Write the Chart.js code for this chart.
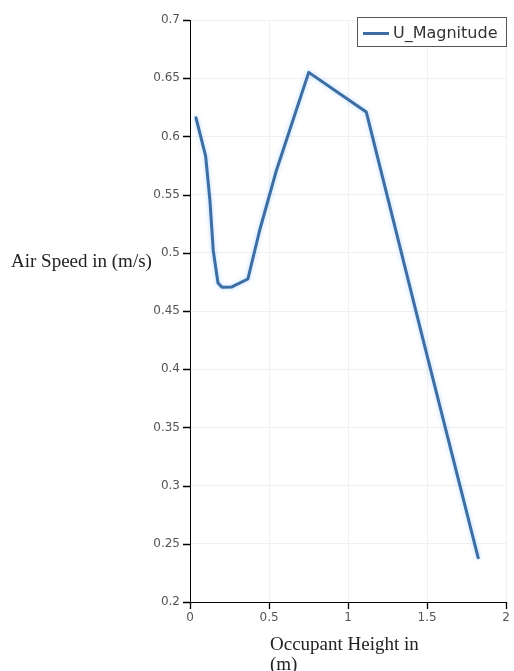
<!DOCTYPE html>
<html>
<head>
<meta charset="utf-8">
<script src="https://cdn.jsdelivr.net/npm/chart.js@4/dist/chart.umd.min.js"></script>
<style>
  html, body { margin: 0; padding: 0; background: #fff; }
  #wrap { width: 514px; height: 671px; }
</style>
</head>
<body>
<div id="wrap"><canvas id="c" width="514" height="671"></canvas></div>
<script>
// Occupant height (m) and air speed magnitude (m/s) along the sample line
const heights = [0.038, 0.099, 0.126, 0.147, 0.177, 0.202, 0.265, 0.366, 0.442, 0.547, 0.751, 1.115, 1.475, 1.823];
const speeds  = [0.616, 0.583, 0.545, 0.502, 0.474, 0.4705, 0.4707, 0.4775, 0.520, 0.571, 0.655, 0.621, 0.425, 0.238];
const seriesName = 'U_Magnitude';
const xTitleLines = ['Occupant Height in', '(m)'];
const yTitle = 'Air Speed in (m/s)';

const points = heights.map((h, i) => ({ x: h, y: speeds[i] }));

const lineColor = '#3d6ea3';
const tickFont = { family: 'DejaVu Sans', size: 12 };
const titleFont = '19px "Liberation Serif"';

// soft halo under the curve
const glow = {
  id: 'glow',
  beforeDatasetDraw(chart) {
    const ctx = chart.ctx;
    ctx.save();
    ctx.shadowColor = 'rgba(110,180,255,0.55)';
    ctx.shadowBlur = 4;
  },
  afterDatasetDraw(chart) { chart.ctx.restore(); }
};

// tick marks, axis titles and boxed legend
const decorations = {
  id: 'decorations',
  afterDraw(chart) {
    const ctx = chart.ctx;
    const area = chart.chartArea;
    const xs = chart.scales.x, ys = chart.scales.y;
    ctx.save();

    ctx.strokeStyle = '#000';
    ctx.lineWidth = 1.3;
    ctx.beginPath();
    ys.ticks.forEach(t => {
      const py = Math.round(ys.getPixelForValue(t.value)) + 0.5;
      ctx.moveTo(area.left - 7, py);
      ctx.lineTo(area.left, py);
    });
    xs.ticks.forEach(t => {
      const px = Math.round(xs.getPixelForValue(t.value)) + 0.5;
      ctx.moveTo(px, area.bottom);
      ctx.lineTo(px, area.bottom + 7);
    });
    ctx.stroke();

    ctx.fillStyle = '#222';
    ctx.font = titleFont;
    ctx.textBaseline = 'alphabetic';
    ctx.textAlign = 'left';
    ctx.fillText(yTitle, 11, 267);
    ctx.fillText(xTitleLines[0], 270, 650);
    ctx.fillText(xTitleLines[1], 270, 670);

    // legend
    const bx = 357, by = 17, bw = 150, bh = 30;
    ctx.fillStyle = '#fff';
    ctx.fillRect(bx, by, bw, bh);
    ctx.strokeStyle = '#555';
    ctx.lineWidth = 1;
    ctx.strokeRect(bx + 0.5, by + 0.5, bw - 1, bh - 1);
    ctx.strokeStyle = lineColor;
    ctx.lineWidth = 3;
    ctx.beginPath();
    ctx.moveTo(363, 33.5);
    ctx.lineTo(389, 33.5);
    ctx.stroke();
    ctx.fillStyle = '#333';
    ctx.font = '16px "DejaVu Sans"';
    ctx.textBaseline = 'middle';
    ctx.fillText(chart.data.datasets[0].label, 393, 34);
    ctx.restore();
  }
};

new Chart(document.getElementById('c'), {
  type: 'scatter',
  data: {
    datasets: [{
      label: seriesName,
      data: points,
      showLine: true,
      borderColor: lineColor,
      borderWidth: 3,
      pointRadius: 0,
      tension: 0,
      borderJoinStyle: 'round',
      borderCapStyle: 'round'
    }]
  },
  options: {
    responsive: false,
    animation: false,
    devicePixelRatio: 1,
    layout: { padding: { top: 20, right: 7, left: 0, bottom: 0 } },
    plugins: { legend: { display: false }, tooltip: { enabled: false } },
    scales: {
      x: {
        type: 'linear',
        min: 0, max: 2,
        afterFit(scale) { scale.height = 69; },
        ticks: { stepSize: 0.5, color: '#555', font: tickFont, padding: 4, maxRotation: 0,
                 callback: v => String(Math.round(v * 10) / 10) },
        grid: { color: '#f0f0f0', drawTicks: true, tickColor: 'rgba(0,0,0,0)', tickLength: 5 },
        border: { color: '#000', width: 1 }
      },
      y: {
        type: 'linear',
        min: 0.2, max: 0.7,
        afterFit(scale) { scale.width = 190; },
        ticks: { stepSize: 0.05, color: '#555', font: tickFont, padding: 3,
                 callback: v => String(Math.round(v * 100) / 100) },
        grid: { color: '#f0f0f0', drawTicks: true, tickColor: 'rgba(0,0,0,0)', tickLength: 7 },
        border: { color: '#000', width: 1 }
      }
    }
  },
  plugins: [glow, decorations]
});
</script>
</body>
</html>
